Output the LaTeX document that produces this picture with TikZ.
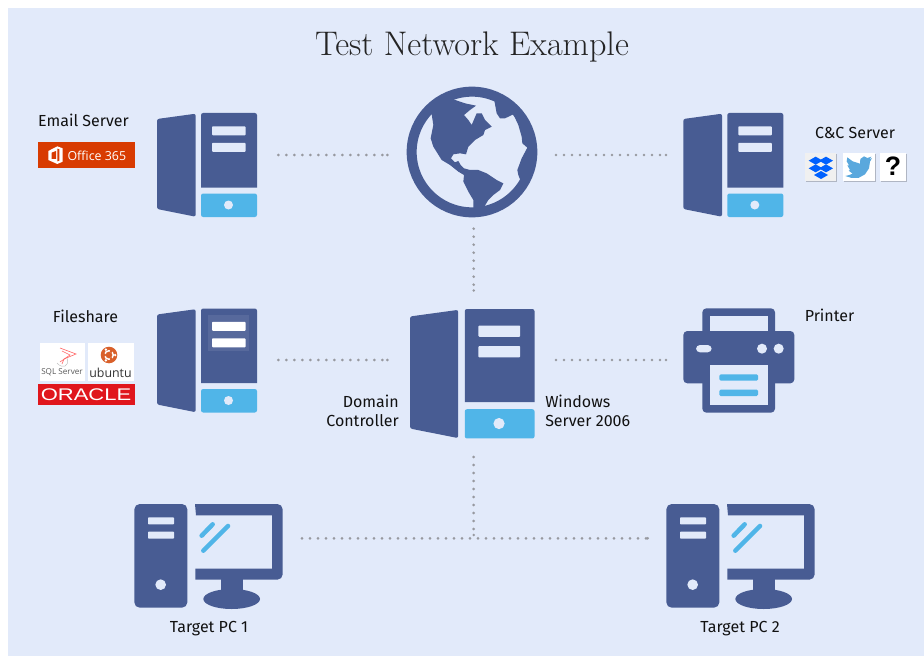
\documentclass[tikz,border=0pt]{standalone}
\usepackage{fontspec}
\newfontfamily\labelfont{Fira Sans}
\newfontfamily\logofont{Open Sans}
\newfontfamily\oraclefont{Liberation Sans}
\definecolor{panel}{HTML}{E2EAFA}
\definecolor{navy}{HTML}{485C93}
\definecolor{sky}{HTML}{50B5E8}
\definecolor{dotgrey}{HTML}{97999F}
\definecolor{ink}{HTML}{111111}
\definecolor{msorange}{HTML}{D83B01}
\definecolor{orared}{HTML}{E0161C}
\definecolor{ubu}{HTML}{D9602A}
\definecolor{dbx}{HTML}{0061FF}
\definecolor{twt}{HTML}{5AA8DD}
\tikzset{
  netlink/.style={draw=dotgrey,line width=2.2pt,line cap=round,dash pattern=on 0pt off 6pt},
  lbl/.style={font=\labelfont\fontsize{12pt}{14.4pt}\selectfont,text=ink,inner sep=0pt},
  zoomed/.style={x=0.25pt,y=-0.25pt},
}
% dotted connector, closing on a dot at its far end
\newcommand\netconn[2]{\draw[netlink] (#1)--(#2); \fill[dotgrey] (#2) circle (1.45);}
% x, y, scale, bar colour
\newcommand\servericon[4]{%
\begin{scope}[shift={(#1,#2)},scale=#3]
 \fill[navy,rounded corners=1.6pt] (38.7,0.7)--(0,6)--(0,96)--(38.7,103.7)--cycle;
 \fill[navy] (44,3) [rounded corners=1.6pt]--(44,0)--(100,0)[sharp corners]--(100,74.7)--(44,74.7)--cycle;
 \fill[sky,rounded corners=1.6pt] (44,80.5)--(100,80.5)--(100,104)--(44,104)--cycle;
 \fill[#4,rounded corners=.6pt] (55,13.3) rectangle (88.5,22.3);
 \fill[#4,rounded corners=.6pt] (55,29.8) rectangle (88.5,38.8);
 \fill[panel] (71.5,92) circle (4.5);
\end{scope}}
\newcommand\pcicon[2]{%
\begin{scope}[shift={(#1,#2)},zoomed]
 \fill[navy,rounded corners=4pt] (43,27) rectangle (202,338);
 \fill[panel,rounded corners=.6pt] (84,67) rectangle (162,88);
 \fill[panel,rounded corners=.6pt] (84,110) rectangle (162,131);
 \fill[panel] (122,269) circle (16);
 \fill[navy] (225,27)[rounded corners=4pt]--(488,27)--(488,254)[sharp corners]--(226,254)--(226,221)--(456,221)--(456,61)--(228,61)--cycle;
 \fill[navy] (302,250) rectangle (369,295);
 \fill[navy] (335,312) ellipse [x radius=85,y radius=30];
 \draw[sky,line width=3.4pt,line cap=round] (245,122)--(278,88);
 \draw[sky,line width=3.4pt,line cap=round] (250,167)--(324,93);
\end{scope}}
\begin{document}
\begin{tikzpicture}[x=0.75pt,y=-0.75pt]
\useasboundingbox (0,0) rectangle (924,656);
\fill[white] (0,0) rectangle (924,656);
\fill[panel] (8,8) rectangle (924,656);

\node[inner sep=0pt,text=ink!92] (title) at (472,47) {\fontsize{25.6pt}{30pt}\selectfont Test Network Example};

% named anchors for the icons
\coordinate (mailE) at (278.3,155);
\coordinate (globeW) at (387.3,155);
\coordinate (globeE) at (556,155);
\coordinate (ccW) at (666,155);
\coordinate (globeS) at (473.7,228.7);
\coordinate (dcN) at (473.7,290.5);
\coordinate (fileE) at (278.3,360);
\coordinate (dcW) at (387.3,360);
\coordinate (dcE) at (556,360);
\coordinate (printW) at (666,360);
\coordinate (dcS) at (473.7,457);
\coordinate (busJ) at (473.7,535);
\coordinate (pcaE) at (302,538.3);
\coordinate (pcbW) at (647.7,538.3);

\netconn{mailE}{globeW}
\netconn{globeE}{ccW}
\netconn{globeS}{dcN}
\netconn{fileE}{dcW}
\netconn{dcE}{printW}
\netconn{dcS}{busJ}
\netconn{pcaE}{pcbW}

% servers
\servericon{157}{113}{1}{panel}
\servericon{683.3}{113}{1}{panel}
\servericon{157}{308.5}{1}{panel}
\fill[white!8!navy] (207.7,315) rectangle (249,351);
\fill[white,rounded corners=.6pt] (212,321.8) rectangle (245.5,330.8);
\fill[white,rounded corners=.6pt] (212,338.3) rectangle (245.5,347.3);
\servericon{410}{309}{1.245}{panel}

% globe
\begin{scope}[shift={(390,75)},zoomed]
 \fill[panel] (246,231) circle (170);
 \begin{scope}
 \clip (246,231) circle (172);
 \fill[navy] (150,60)--(190,73)--(225,85)--(258,92)--(240,105)--(222,120)--(235,135)--(245,150)--(260,115)--(275,115)--(285,135)--(305,155)--(285,165)--(280,180)--(255,195)--(235,215)--(228,238)--(210,235)--(190,238)--(183,250)--(195,262)--(205,258)--(212,270)--(222,280)--(240,285)--(265,285)--(290,295)--(320,315)--(340,325)--(330,345)--(310,360)--(295,375)--(283,395)--(283,410)--(250,410)--(250,375)--(235,350)--(220,320)--(222,300)--(205,290)--(180,270)--(155,255)--(130,215)--(122,190)--(130,150)--(125,118)--(100,100)--cycle;
 \fill[navy] (310,60)--(320,115)--(330,130)--(345,130)--(370,118)--(385,150)--(395,185)--(397,205)--(412,218)--(395,250)--(382,285)--(385,300)--(395,325)--(450,320)--(460,230)--(430,100)--(370,40)--cycle;
 \end{scope}
 \draw[navy,line width=7.5pt] (246,231) circle (181);
\end{scope}

% printer
\begin{scope}[shift={(670,295)},zoomed]
 \fill[navy,rounded corners=3pt] (97,40) rectangle (315,120);
 \fill[navy,rounded corners=3pt] (40,108) rectangle (373,265);
 \fill[navy,rounded corners=3pt] (97,200) rectangle (315,353);
 \fill[panel] (120,63) rectangle (293,108);
 \fill[panel] (120,210) rectangle (293,331);
 \fill[panel] (276,161) circle (15);
 \fill[panel] (326,161) circle (15);
 \fill[panel,rounded corners=3pt] (78,150) rectangle (125,172);
 \fill[sky,rounded corners=1pt] (148,238) rectangle (264,257);
 \fill[sky,rounded corners=1pt] (148,284) rectangle (264,303);
\end{scope}

% PCs
\pcicon{120}{495}
\pcicon{652}{495}

% labels
\node[lbl] (lmail) at (83.5,120) {Email Server};
\node[lbl] (lcc) at (855,132.5) {C\&C Server};
\node[lbl] (lfile) at (85.5,316) {Fileshare};
\node[lbl] (lprint) at (829.5,315) {Printer};
\node[lbl,align=right,anchor=east] (ldc) at (399,411) {Domain\\Controller};
\node[lbl,align=left,anchor=west] (lwin) at (545,411) {Windows\\Server 2006};
\node[lbl] (lpca) at (209,629) {Target PC 1};
\node[lbl] (lpcb) at (740,629) {Target PC 2};

% Office 365 logo
\fill[msorange] (38,142) rectangle (135,167.7);
\begin{scope}[shift={(0,90)},zoomed]
 \fill[white] (145,183)--(172,169)--(188,175)--(188,215)--(172,222)--(145,210)--cycle;
 \fill[msorange] (155,188)--(168,183)--(168,207)--(155,207)--cycle;
 \fill[msorange] (172,176)--(178,178)--(178,212)--(172,214)--cycle;
\end{scope}
\node[inner sep=0pt,text=white,anchor=west] (o365) at (67.3,155.5) {\logofont\fontsize{9.3pt}{10pt}\selectfont Office 365};

% C&C tiles
\fill[black,opacity=.22] (806,154) rectangle (837,182);
\fill[black,opacity=.22] (844,154) rectangle (876,182);
\fill[black,opacity=.22] (881,154) rectangle (907,182);
\fill[black!6] (805,152.7) rectangle (836,180.7);
\fill[white] (843,152.7) rectangle (875,180.7);
\fill[white] (880,152.7) rectangle (906,180.7);
\begin{scope}[shift={(660,90)},zoomed]
 \foreach \cx/\cy in {467/212,498/212,467/235,498/235,483/255}{
  \fill[dbx] (\cx-21,\cy)--(\cx,\cy-12)--(\cx+21,\cy)--(\cx,\cy+12)--cycle;}
 \fill[twt] (636,204)--(628,209)--(634,200)--(622,204)--(612,199)--(601,207)--(600,221)--(578,214)--(562,202)--(560,214)--(567,226)--(562,226)--(570,240)--(566,242)--(578,251)--(568,255)--(556,258)--(575,264)--(595,264)--(615,253)--(627,235)--(630,215)--cycle;
\end{scope}
\node[inner sep=0pt,text=black] (qm) at (893,166) {\oraclefont\bfseries\fontsize{20pt}{22pt}\selectfont ?};

% Fileshare tiles
\fill[white] (40,342.7) rectangle (85,381);
\fill[white] (88,342.7) rectangle (134,381);
\fill[orared] (38,384) rectangle (135,405);
\fill[ubu] (109,355) circle (8.3);
\draw[white,line width=1.1pt] (109,355) circle (4.3);
\foreach \a in {0,120,240}{\fill[ubu] (109,355)++(\a+60:4.4) circle (1.7); \fill[white] (109,355)++(\a:6.2) circle (1.3);}
\node[inner sep=0pt,text=black!80] (ubtxt) at (110.5,373) {\logofont\fontsize{9.3pt}{10pt}\selectfont ubuntu};
\node[inner sep=0pt,text=black!65] (sqltxt) at (62,372) {\logofont\fontsize{6.1pt}{7pt}\selectfont SQL Server};
\draw[red!60!white,line width=.45pt] (60,348)--(76,354)--(64,359)--(62,364);
\draw[red!60!white,line width=.45pt] (62,351)--(70,355)--(60,362);
\draw[black!25,line width=.35pt] (57,363)..controls (62,369) and (70,367) .. (67,358);
\node[inner sep=0pt,text=white] (oratxt) at (86,394.5) {\oraclefont\fontsize{11pt}{12pt}\selectfont\scalebox{1.5}[1.15]{ORACLE}};
\end{tikzpicture}
\end{document}
